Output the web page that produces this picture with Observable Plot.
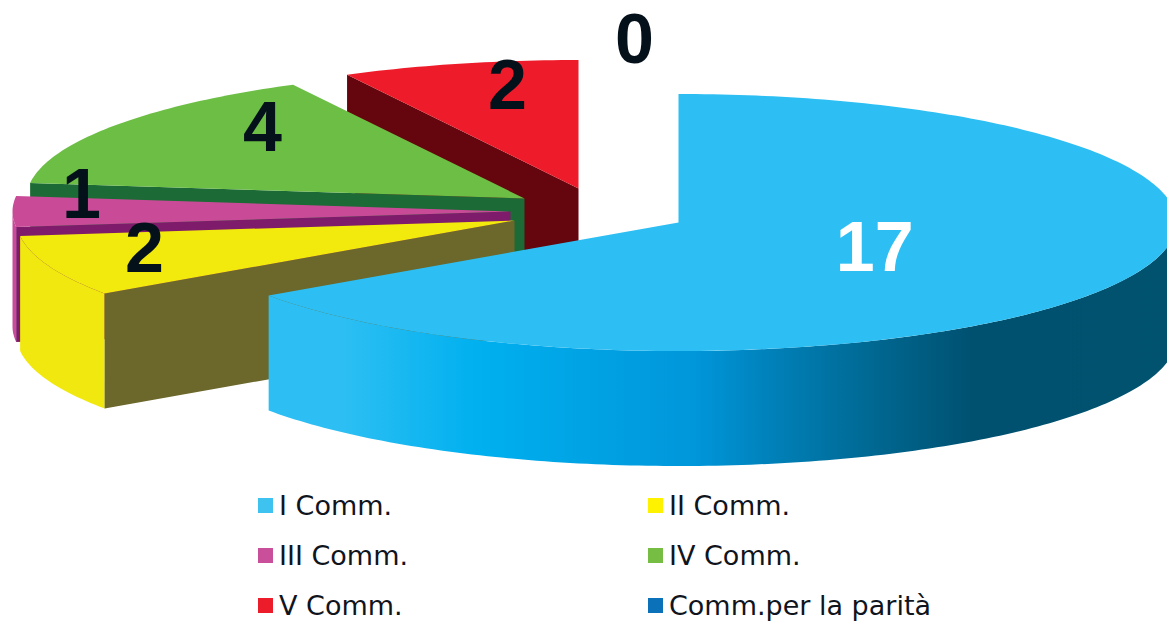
<!DOCTYPE html>
<html lang="it">
<head>
<meta charset="utf-8">
<title>Commissioni</title>
<script src="https://cdn.jsdelivr.net/npm/d3@7"></script>
<script src="https://cdn.jsdelivr.net/npm/@observablehq/plot@0.6"></script>
<style>
html,body{margin:0;padding:0;background:#fff;overflow:hidden;width:1167px;height:622px}
#legend{display:grid;grid-template-columns:390px 390px;grid-auto-rows:50px;padding-left:258px;
 font-family:"DejaVu Sans",sans-serif;font-size:27px;color:#10141c}
#legend div{display:flex;align-items:center;gap:6px;white-space:nowrap}
#legend i{display:block;width:15px;height:15px;flex:none}
svg{display:block;max-width:none}
</style>
</head>
<body>
<div id="chart"></div>
<div id="legend"></div>
<script>
// Data
const categories = ["I Comm.", "II Comm.", "III Comm.", "IV Comm.", "V Comm.", "Comm.per la parità"];
const values = [17, 2, 1, 4, 2, 0];
// Style
const topColors  = ["#2DBFF3", "#F2EA0D", "#C94B97", "#6CBE45", "#EE1C2A", "#0B72B9"];
const faceColors = ["#00536F", "#6C672B", "#7E1B6A", "#1C6A35", "#65050D", "#064A7A"];
const rimColors  = ["url(#rimBlue)", "#F0E80E", "#C84C9A", "#1C6A35", "#65050D", "#064A7A"];
const swatchColors = ["#3EC3F0", "#FFF200", "#C94F9B", "#76BD43", "#ED1C2B", "#0B72B9"];
// Layout of the exploded 3D pie
const W = 1167, H = 480, RX = 498, RY = 128.5, DEPTH = 115;
const cxs = [678, 514, 510, 524, 578, 634];
const cys = [222, 220, 211, 198, 188, 120];

const total = d3.sum(values);
let acc = 0;
const slices = values.map((v, i) => {
  const a0 = acc / total * 360; acc += v; const a1 = acc / total * 360;
  return {i, v, a0, a1, cx: cxs[i], cy: cys[i]};
});
const pt = (s, deg, r = 1, drop = 0) => {
  const t = deg * Math.PI / 180;
  return [s.cx + RX * r * Math.sin(t), s.cy - RY * r * Math.cos(t) + drop];
};
const arc = (s, a, b, drop = 0) => {
  const n = Math.max(1, Math.ceil(Math.abs(b - a)));
  return d3.range(n + 1).map(k => pt(s, a + (b - a) * k / n, 1, drop));
};
const topPoly = s => [[s.cx, s.cy], ...arc(s, s.a0, s.a1)];
const facePoly = (s, deg) => {
  const p = pt(s, deg);
  return [[s.cx, s.cy], p, [p[0], p[1] + DEPTH], [s.cx, s.cy + DEPTH]];
};
const rimPoly = s => {
  const a = Math.max(s.a0, 90), b = Math.min(s.a1, 270);
  if (b <= a) return null;
  return [...arc(s, a, b), ...arc(s, b, a, DEPTH)];
};
const poly = (pts, fill) => Plot.line(pts, {x: d => d[0], y: d => d[1], fill, stroke: "none", curve: "linear"});

const marks = [];
const defs = () => {
  const d = d3.create("svg:defs");
  const g = d.append("linearGradient").attr("id", "rimBlue").attr("x1", 0).attr("x2", 1).attr("y1", 0).attr("y2", 0);
  [[0, "#2DBFF3"], [0.08, "#2DBFF3"], [0.23, "#00B0EF"], [0.47, "#0096DA"], [0.557, "#0080B8"],
   [0.674, "#00668F"], [0.78, "#00506F"], [1, "#00536F"]]
    .forEach(([o, c]) => g.append("stop").attr("offset", o).attr("stop-color", c));
  return d.node();
};
marks.push(defs);

const [s1, s2, s3, s4, s5] = slices;
// V: inner cut face, then top
marks.push(poly(facePoly(s5, s5.a0), faceColors[4]), poly(topPoly(s5), topColors[4]));
// IV
marks.push(poly(facePoly(s4, s4.a0), faceColors[3]), poly(topPoly(s4), topColors[3]));
// III
marks.push(poly(facePoly(s3, s3.a0), faceColors[2]), poly(rimPoly(s3), rimColors[2]), poly(topPoly(s3), topColors[2]));
// II
marks.push(poly(rimPoly(s2), rimColors[1]), poly(facePoly(s2, s2.a0), faceColors[1]), poly(topPoly(s2), topColors[1]));
// I
marks.push(poly(rimPoly(s1), rimColors[0]), poly(topPoly(s1), topColors[0]));

// Value labels
const labelData = slices.map(s => {
  const p = pt(s, (s.a0 + s.a1) / 2, 0.445);
  return {label: String(s.v), x: p[0], y: p[1], i: s.i};
});
labelData[4].x = s5.cx - 71; labelData[4].y = s5.cy - 102;
labelData[3].x = s4.cx - 262; labelData[3].y = s4.cy - 70;
labelData[2].x = 81; labelData[2].y = 195;
labelData[1].x = 144; labelData[1].y = 249;
labelData[5].x = 634; labelData[5].y = 40;
marks.push(Plot.text(labelData, {
  x: "x", y: "y", text: "label", textAnchor: "middle", lineAnchor: "middle",
  fontFamily: "Liberation Sans", fontWeight: 700, fontSize: 70,
  fill: d => d.i === 0 ? "#ffffff" : "#04101A"
}));

const chart = Plot.plot({
  width: W, height: H, margin: 0,
  x: {domain: [0, W], range: [0, W], axis: null},
  y: {domain: [0, H], range: [0, H], axis: null},
  marks
});
document.getElementById("chart").append(chart);

const legend = d3.select("#legend");
categories.forEach((c, i) => {
  const row = legend.append("div");
  row.append("i").style("background", swatchColors[i]);
  row.append("span").text(c);
});
</script>
</body>
</html>
